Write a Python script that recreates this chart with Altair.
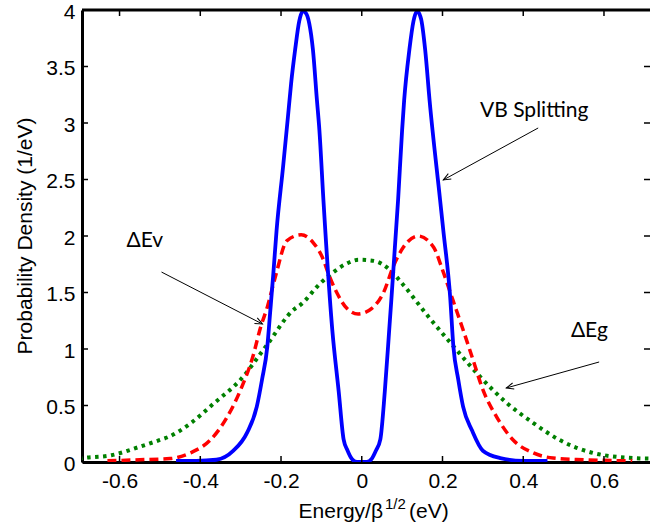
import math
import altair as alt
import pandas as pd

# ---------------- data ----------------
blue_x = [-0.46, -0.41, -0.36, -0.318, -0.284, -0.26, -0.247, -0.234, -0.227, -0.219, -0.211,
          -0.195, -0.183, -0.175, -0.165, -0.155, -0.146, -0.138, -0.13, -0.121, -0.111, -0.105,
          -0.095, -0.073, -0.057, -0.045, -0.035, -0.025, -0.012, 0.0,
          0.012, 0.025, 0.035, 0.046, 0.057, 0.068, 0.09, 0.1, 0.105, 0.118, 0.128, 0.137,
          0.147, 0.157, 0.168, 0.194, 0.202, 0.219, 0.227, 0.239, 0.251, 0.273, 0.3, 0.343,
          0.4, 0.46]
blue_y = [0.01, 0.01, 0.02, 0.10, 0.26, 0.49, 0.73, 1.02, 1.32, 1.67, 2.05,
          2.61, 3.05, 3.35, 3.65, 3.9, 3.99, 3.97, 3.88, 3.65, 3.2, 2.94,
          2.32, 1.17, 0.62, 0.2, 0.1, 0.03, 0.0, 0.0,
          0.0, 0.03, 0.1, 0.2, 0.62, 1.17, 2.32, 2.94, 3.2, 3.65, 3.9, 3.99,
          3.92, 3.65, 3.2, 2.32, 2.05, 1.46, 1.02, 0.73, 0.49, 0.28, 0.10, 0.035,
          0.01, 0.01]

red_x = [-0.63, -0.55, -0.475, -0.425, -0.375, -0.333, -0.3, -0.27, -0.25, -0.234, -0.214,
         -0.185, -0.15, -0.12, -0.095, -0.083, -0.062, -0.037, -0.009,
         0.025, 0.054, 0.078, 0.103, 0.14, 0.178, 0.2, 0.226, 0.251, 0.276, 0.3, 0.334,
         0.375, 0.425, 0.474, 0.55, 0.67]
red_y = [0.01, 0.02, 0.03, 0.08, 0.195, 0.40, 0.64, 0.93, 1.20, 1.37, 1.64,
         1.96, 2.01, 1.94, 1.79, 1.67, 1.50, 1.36, 1.31,
         1.36, 1.50, 1.73, 1.90, 2.00, 1.90, 1.70, 1.43, 1.17, 0.90, 0.64, 0.40,
         0.195, 0.08, 0.035, 0.02, 0.01]

green_x = [-0.70, -0.69, -0.62, -0.55, -0.50, -0.48, -0.425, -0.366, -0.30, -0.234, -0.168,
           -0.152, -0.103, -0.074, -0.035, -0.008, 0.03, 0.07, 0.10, 0.162, 0.228, 0.293,
           0.36, 0.425, 0.49, 0.573, 0.672, 0.714, 0.72]
green_y = [0.03, 0.035, 0.06, 0.135, 0.195, 0.22, 0.34, 0.52, 0.73, 1.04, 1.35,
           1.39, 1.58, 1.67, 1.76, 1.79, 1.78, 1.70, 1.58, 1.30, 1.02, 0.755,
           0.52, 0.345, 0.195, 0.08, 0.035, 0.03, 0.03]

x_ticks = [-0.6, -0.4, -0.2, 0.0, 0.2, 0.4, 0.6]
y_ticks = [0, 0.5, 1, 1.5, 2, 2.5, 3, 3.5, 4]

annot_text = ["VB Splitting", "ΔEv", "ΔEg"]
annot_x = [0.293, -0.583, 0.518]
annot_y = [3.05, 1.90, 1.106]
arrow_tail_x = [0.437, -0.496, 0.588]
arrow_tail_y = [2.956, 1.681, 0.885]
arrow_head_x = [0.202, -0.246, 0.358]
arrow_head_y = [2.496, 1.221, 0.655]

x_title = ["Energy/β", "1/2", "(eV)"]
y_title = "Probability Density (1/eV)"

# ---------------- layout / style ----------------
XMIN, XMAX = -0.693, 0.714
YMIN, YMAX = 0.0, 4.0
W, H = 568, 452
FONT = "Liberation Sans"

xs = alt.Scale(domain=[XMIN, XMAX], nice=False, zero=False)
ys = alt.Scale(domain=[YMIN, YMAX], nice=False, zero=False)

xaxis = alt.Axis(values=x_ticks, ticks=False, grid=False, title=None,
                 domainColor="black", domainWidth=3,
                 labelFont=FONT, labelFontSize=21, labelColor="black", labelPadding=8,
                 labelFlush=False, labelOverlap=False,
                 labelExpr="datum.value == 0 ? '0' : (datum.value < 0 ? '-' + format(-datum.value, '.1f') : format(datum.value, '.1f'))")
yaxis = alt.Axis(values=y_ticks, ticks=False, grid=False, title=None,
                 domainColor="black", domainWidth=3, format="~g",
                 labelFont=FONT, labelFontSize=21, labelColor="black", labelPadding=7,
                 labelOffset=2, labelFlush=False, labelOverlap=False)


def curve(xv, yv, color, dash=None, width=3.5):
    df = pd.DataFrame({"x": xv, "y": yv})
    kw = dict(color=color, strokeWidth=width, clip=True, interpolate="monotone")
    if dash:
        kw["strokeDash"] = dash
        kw["strokeCap"] = "butt"
    return alt.Chart(df).mark_line(**kw).encode(
        x=alt.X("x:Q", scale=xs, axis=xaxis),
        y=alt.Y("y:Q", scale=ys, axis=yaxis),
    )


green = curve(green_x, green_y, "#008000", [3.5, 4.5], width=4)
red = curve(red_x, red_y, "#FF0000", [9, 5])
blue = curve(blue_x, blue_y, "#0000FF", width=3.8)

# inward ticks (MATLAB style) on all four sides
xt = pd.DataFrame({"x": x_ticks})
yt = pd.DataFrame({"y": y_ticks})
tick_style = dict(color="black", strokeWidth=1.5)
ticks_bottom = alt.Chart(xt).mark_rule(**tick_style).encode(
    x=alt.X("x:Q", scale=xs, axis=xaxis), y=alt.value(H), y2=alt.value(H - 6))
ticks_top = alt.Chart(xt).mark_rule(**tick_style).encode(
    x=alt.X("x:Q", scale=xs, axis=xaxis), y=alt.value(0), y2=alt.value(6))
ticks_left = alt.Chart(yt).mark_rule(**tick_style).encode(
    y=alt.Y("y:Q", scale=ys, axis=yaxis), x=alt.value(0), x2=alt.value(6))
ticks_right = alt.Chart(yt).mark_rule(**tick_style).encode(
    y=alt.Y("y:Q", scale=ys, axis=yaxis), x=alt.value(W), x2=alt.value(W - 6))

one = pd.DataFrame({"a": [0]})
top_frame = alt.Chart(one).mark_rule(color="black", strokeWidth=3).encode(
    x=alt.value(0), x2=alt.value(W + 2), y=alt.value(0))

# annotations
sx = W / (XMAX - XMIN)
sy = H / (YMAX - YMIN)
angles = []
for tx, ty, hx, hy in zip(arrow_tail_x, arrow_tail_y, arrow_head_x, arrow_head_y):
    dx = (hx - tx) * sx
    dy = -(hy - ty) * sy
    angles.append(math.degrees(math.atan2(dx, -dy)) % 360)

ann = pd.DataFrame({"label": annot_text, "lx": annot_x, "ly": annot_y,
                    "tx": arrow_tail_x, "ty": arrow_tail_y,
                    "hx": arrow_head_x, "hy": arrow_head_y, "ang": angles})

ann_text = alt.Chart(ann).mark_text(font="Lato", fontSize=21, align="left",
                                    baseline="alphabetic", color="black").encode(
    x=alt.X("lx:Q", scale=xs, axis=xaxis), y=alt.Y("ly:Q", scale=ys, axis=yaxis), text="label:N")
ann_line = alt.Chart(ann).mark_rule(color="black", strokeWidth=1).encode(
    x=alt.X("tx:Q", scale=xs, axis=xaxis), y=alt.Y("ty:Q", scale=ys, axis=yaxis),
    x2="hx:Q", y2="hy:Q")
ann_head = alt.Chart(ann).mark_point(shape="M-0.42,1L0,0L0.42,1", filled=False,
                                     color="black", strokeWidth=1, size=220, opacity=1).encode(
    x=alt.X("hx:Q", scale=xs, axis=xaxis), y=alt.Y("hy:Q", scale=ys, axis=yaxis),
    angle=alt.Angle("ang:Q", scale=None))

# axis titles (with superscript)
xt1 = alt.Chart(one).mark_text(font=FONT, fontSize=21, align="right", baseline="alphabetic",
                               color="black").encode(
    x=alt.value(301), y=alt.value(508), text=alt.value(x_title[0]))
xt2 = alt.Chart(one).mark_text(font=FONT, fontSize=15, align="left", baseline="alphabetic",
                               color="black").encode(
    x=alt.value(303), y=alt.value(499), text=alt.value(x_title[1]))
xt3 = alt.Chart(one).mark_text(font=FONT, fontSize=21, align="left", baseline="alphabetic",
                               color="black").encode(
    x=alt.value(327), y=alt.value(508), text=alt.value(x_title[2]))
ytl = alt.Chart(one).mark_text(font=FONT, fontSize=21, align="center", baseline="alphabetic",
                               angle=270, color="black").encode(
    x=alt.value(-50), y=alt.value(226), text=alt.value(y_title))

chart = alt.layer(
    green, red, blue,
    ticks_bottom, ticks_top, ticks_left, ticks_right, top_frame,
    ann_line, ann_head, ann_text,
    xt1, xt2, xt3, ytl,
).properties(
    width=W, height=H,
    autosize=alt.AutoSizeParams(type="none"),
    padding={"left": 82, "top": 10, "right": 0, "bottom": 69},
    background="white",
).configure_view(stroke=None)

chart.save("out.html", embed_options={"renderer": "svg", "actions": False})
